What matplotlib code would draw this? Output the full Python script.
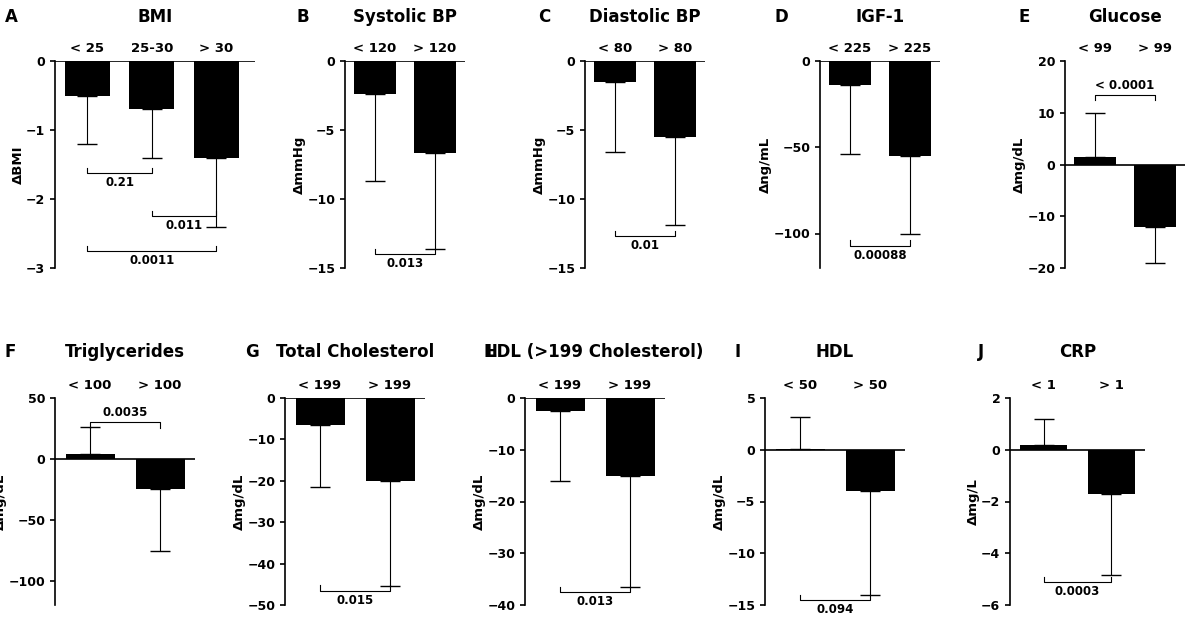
import matplotlib
matplotlib.use("Agg")
import matplotlib.pyplot as plt

letters = list("ABCDEFGHIJ")
titles = ["BMI","Systolic BP","Diastolic BP","IGF-1","Glucose","Triglycerides",
          "Total Cholesterol","LDL (>199 Cholesterol)","HDL","CRP"]
cats = [["< 25","25-30","> 30"],["< 120","> 120"],["< 80","> 80"],["< 225","> 225"],
        ["< 99","> 99"],["< 100","> 100"],["< 199","> 199"],["< 199","> 199"],
        ["< 50","> 50"],["< 1","> 1"]]
means = [[-0.5,-0.7,-1.4],[-2.4,-6.7],[-1.5,-5.5],[-14,-55],[1.5,-12],[4,-25],
         [-6.5,-20],[-2.5,-15],[0.1,-4],[0.2,-1.7]]
errs = [[0.7,0.7,1.0],[6.3,6.9],[5.1,6.4],[40,45],[8.5,7],[22,51],
        [15,25.5],[13.5,21.5],[3.1,10],[1.0,3.15]]
ylabels = ["ΔBMI","ΔmmHg","ΔmmHg","Δng/mL","Δmg/dL","Δmg/dL","Δmg/dL","Δmg/dL","Δmg/dL","Δmg/L"]
ylims = [(-3,0),(-15,0),(-15,0),(-120,0),(-20,20),(-120,50),(-50,0),(-40,0),(-15,5),(-6,2)]
yticks = [[0,-1,-2,-3],[0,-5,-10,-15],[0,-5,-10,-15],[0,-50,-100],[20,10,0,-10,-20],
          [50,0,-50,-100],[0,-10,-20,-30,-40,-50],[0,-10,-20,-30,-40],[5,0,-5,-10,-15],[2,0,-2,-4,-6]]
# brackets: (i, j, y, label, direction) direction -1: text below, +1 text above
brackets = [[(0,1,-1.62,"0.21",-1),(1,2,-2.25,"0.011",-1),(0,2,-2.75,"0.0011",-1)],
            [(0,1,-14.0,"0.013",-1)],[(0,1,-12.7,"0.01",-1)],[(0,1,-107,"0.00088",-1)],
            [(0,1,13.5,"< 0.0001",1)],[(0,1,30,"0.0035",1)],[(0,1,-46.5,"0.015",-1)],
            [(0,1,-37.5,"0.013",-1)],[(0,1,-14.5,"0.094",-1)],[(0,1,-5.1,"0.0003",-1)]]
xpix = [(55,255),(345,465),(585,705),(820,940),(1065,1185),
        (55,195),(285,425),(525,665),(765,905),(1010,1145)]
letter_x = [5,297,538,775,1018,5,245,483,735,978]
W, H = 1200, 620
fig = plt.figure(figsize=(12,6.2), dpi=100)
for k in range(10):
    top, bot = (61,268) if k < 5 else (398,605)
    l, r = xpix[k]
    ax = fig.add_axes([l/W, 1-bot/H, (r-l)/W, (bot-top)/H])
    n = len(cats[k])
    x = list(range(n))
    ax.bar(x, means[k], width=0.7, color="black", zorder=2)
    for xi, m, e in zip(x, means[k], errs[k]):
        yerr = [[0],[e]] if m >= 0 else [[e],[0]]
        ax.errorbar(xi, m, yerr=yerr, fmt="none", ecolor="black", lw=0.8, capsize=7)
    ax.set_xlim(-0.5, n-0.5+(0.1 if n == 3 else 0))
    ax.set_ylim(*ylims[k])
    ax.set_yticks(yticks[k])
    ax.axhline(0, color="black", lw=1.2, zorder=3)
    for s in ["top","right","bottom"]:
        ax.spines[s].set_visible(False)
    ax.spines["left"].set_linewidth(1.2)
    ax.xaxis.tick_top()
    ax.set_xticks(x)
    ax.set_xticklabels(cats[k], fontsize=9.5, fontweight="bold")
    ax.tick_params(axis="x", length=0, pad=4)
    ax.tick_params(axis="y", labelsize=9, width=1.2)
    for t in ax.get_yticklabels():
        t.set_fontweight("bold")
    ax.set_ylabel(ylabels[k], fontsize=9.5, fontweight="bold", labelpad=1)
    span = ylims[k][1]-ylims[k][0]
    for (i, j, y, lab, d) in brackets[k]:
        tk = 0.025*span
        ax.plot([i, i, j, j], [y - d*tk, y, y, y - d*tk], color="black", lw=0.8)
        ax.text((i+j)/2, y + d*0.015*span, lab, ha="center",
                va="bottom" if d > 0 else "top", fontsize=8.5, fontweight="bold")
    ty = 1-17/H if k < 5 else 1-352/H
    fig.text((l+r)/2/W, ty, titles[k], ha="center", va="center", fontsize=12, fontweight="bold")
    fig.text(letter_x[k]/W, ty, letters[k], ha="left", va="center", fontsize=12, fontweight="bold")
fig.savefig("out.png", dpi=100)
